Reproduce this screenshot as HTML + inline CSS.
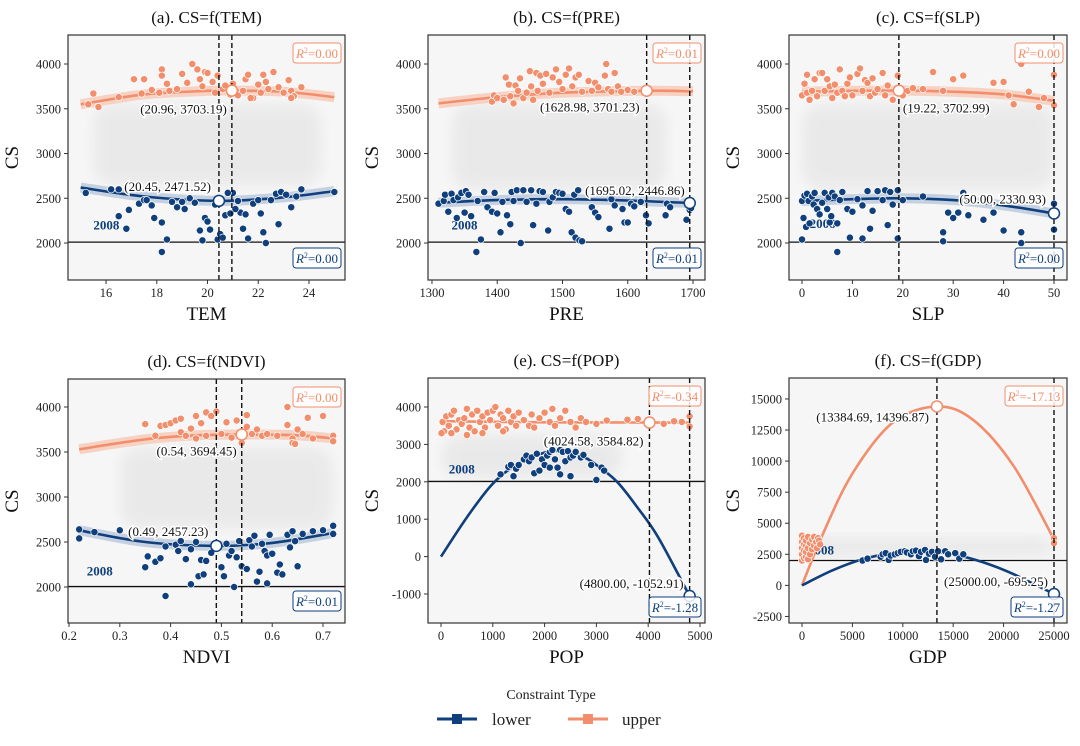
<!DOCTYPE html>
<html><head><meta charset="utf-8"><style>
html,body{margin:0;padding:0;background:#fff}
svg{display:block;font-family:"Liberation Serif",serif}
</style></head><body>
<svg id="fig" width="1080" height="746" viewBox="0 0 1080 746">
<defs><filter id="blur" x="-20%" y="-20%" width="140%" height="140%"><feGaussianBlur stdDeviation="6"/></filter></defs>
</svg>
<script>
// ---------- data ----------
const panelTitles=["(a). CS=f(TEM)","(b). CS=f(PRE)","(c). CS=f(SLP)","(d). CS=f(NDVI)","(e). CS=f(POP)","(f). CS=f(GDP)"];
const xLabels=["TEM","PRE","SLP","NDVI","POP","GDP"];
const xTicks=[[16,18,20,22,24],[1300,1400,1500,1600,1700],[0,10,20,30,40,50],[0.2,0.3,0.4,0.5,0.6,0.7],[0,1000,2000,3000,4000,5000],[0,5000,10000,15000,20000,25000]];
const xTickLabels=[["16","18","20","22","24"],["1300","1400","1500","1600","1700"],["0","10","20","30","40","50"],["0.2","0.3","0.4","0.5","0.6","0.7"],["0","1000","2000","3000","4000","5000"],["0","5000","10000","15000","20000","25000"]];
const yTicks=[[2000,2500,3000,3500,4000],[2000,2500,3000,3500,4000],[2000,2500,3000,3500,4000],[2000,2500,3000,3500,4000],[-1000,0,1000,2000,3000,4000],[-2500,0,2500,5000,7500,10000,12500,15000]];
const xDomains=[[14.50,25.42],[1293.9,1718.4],[-2.58,52.58],[0.198,0.7433],[-251,5097],[-1290,26290]];
const yDomains=[[1587,4324],[1587,4324],[1587,4324],[1600,4311],[-1775,4775],[-3027,16686]];
const r2Upper=["0.00","0.01","0.00","0.00","-0.34","-17.13"];
const r2Lower=["0.00","0.01","0.00","0.01","-1.28","-1.27"];
const refLine=[2010,2010,2010,2005,2010,2000];
const vLines=[[20.45,20.96],[1628.98,1695.02],[19.22,50],[0.49,0.54],[4024.58,4800],[13384.69,25000]];
const upperOpt=[[20.96,3703.19],[1628.98,3701.23],[19.22,3702.99],[0.54,3694.45],[4024.58,3584.82],[13384.69,14396.87]];
const lowerOpt=[[20.45,2471.52],[1695.02,2446.86],[50,2330.93],[0.49,2457.23],[4800,-1052.91],[25000,-695.25]];
const upperOptText=["(20.96, 3703.19)","(1628.98, 3701.23)","(19.22, 3702.99)","(0.54, 3694.45)","(4024.58, 3584.82)","(13384.69, 14396.87)"];
const lowerOptText=["(20.45, 2471.52)","(1695.02, 2446.86)","(50.00, 2330.93)","(0.49, 2457.23)","(4800.00, -1052.91)","(25000.00, -695.25)"];
const label2008=[[15.5,2150],[1330,2150],[1.5,2170],[0.235,2130],[150,2220],[600,2480]];
const cloud=[[15.5,24.5,2650,3550],[1330,1660,2600,3550],[0,50,2600,3550],[0.3,0.72,2650,3550],[0,3500,2100,3250],[0,25000,2300,3900]];
const upperCurve=[
[[15,3550],[17.5,3660],[20,3700],[21,3703],[23,3690],[25,3630]],
[[1310,3560],[1400,3630],[1500,3680],[1629,3701],[1700,3695]],
[[0,3690],[10,3700],[19.22,3703],[30,3690],[40,3660],[50,3590]],
[[0.22,3530],[0.35,3640],[0.45,3685],[0.54,3694],[0.65,3685],[0.72,3650]],
[[0,3620],[2000,3590],[4024,3585],[4800,3580]],
[[0,0],[2000,4000],[5000,9000],[9000,13100],[13385,14397],[17000,13300],[21000,9600],[25000,3700]]];
const lowerCurve=[
[[15,2620],[17.5,2520],[20.45,2471],[23,2510],[25,2580]],
[[1310,2450],[1400,2480],[1500,2490],[1600,2475],[1695,2447]],
[[0,2470],[10,2490],[20,2500],[30,2480],[40,2420],[50,2331]],
[[0.22,2630],[0.35,2500],[0.49,2457],[0.6,2490],[0.72,2600]],
[[0,0],[500,1050],[1000,1950],[1500,2500],[2000,2780],[2300,2820],[2700,2700],[3000,2450],[3400,2000],[3800,1300],[4200,500],[4800,-1053]],
[[0,0],[3000,1200],[6000,2100],[9000,2600],[12000,2750],[15000,2500],[18000,1850],[21000,900],[25000,-695]]];
const upperPts=[
[[15.3,3550],[15.5,3670],[15.7,3520],[16.5,3630],[17.1,3830],[17.5,3830],[17.4,3670],[17.8,3710],[18.1,3680],[18.2,3940],[18.2,3870],[18.4,3780],[18.5,3700],[18.8,3720],[19,3890],[19.2,3790],[19.4,4000],[19.6,3940],[19.7,3830],[19.8,3750],[19.9,3910],[20,3900],[20.2,3800],[20.3,3680],[20.4,3870],[20.6,3720],[20.7,3760],[20.9,3660],[21,3780],[21.2,3650],[21.4,3700],[21.5,3830],[21.6,3880],[21.8,3620],[22,3770],[22.1,3680],[22.2,3880],[22.3,3800],[22.4,3720],[22.6,3910],[22.8,3740],[23,3680],[23.2,3820],[23.3,3700],[23.4,3640],[23.7,3740],[23.3,3620],[21.7,3620]],
[[1392,3580],[1395,3650],[1400,3620],[1410,3600],[1413,3850],[1418,3770],[1420,3640],[1425,3560],[1428,3760],[1432,3700],[1435,3840],[1440,3620],[1445,3680],[1450,3920],[1452,3750],[1455,3600],[1460,3900],[1462,3700],[1466,3870],[1470,3780],[1475,3890],[1480,3680],[1485,3850],[1490,3940],[1495,3800],[1500,3720],[1505,3880],[1510,3950],[1515,3750],[1520,3850],[1525,3880],[1530,3690],[1540,3810],[1545,3700],[1550,3790],[1555,3740],[1565,3870],[1570,3720],[1575,3690],[1580,3900],[1585,3750],[1590,3690],[1600,3710],[1610,3690],[1567,4000]],
[[0,3650],[0.5,3780],[1,3880],[1,3680],[1.5,3600],[2,3700],[2.5,3830],[3,3640],[3.5,3900],[4,3900],[4.5,3700],[5,3830],[5.5,3750],[6,3620],[6.5,3770],[7,3680],[7.5,3940],[8,3700],[8.5,3640],[9,3780],[9.5,3850],[10,3650],[11,3890],[11.5,3950],[12,3700],[12.5,3820],[13,3790],[13.5,3640],[14,3840],[14.5,3680],[15,3720],[16,3900],[16.5,3650],[17,3760],[18,3600],[19,3870],[20,3650],[21,3700],[22,3730],[24,3720],[26,3910],[28,3700],[30,3830],[32,3870],[38,3790],[40,3800],[41,3650],[42,3550],[45,3690],[47,3520],[48,3620],[50,3880],[50,3540],[43.5,4000]],
[[0.35,3810],[0.37,3680],[0.38,3790],[0.39,3800],[0.4,3820],[0.41,3850],[0.42,3870],[0.42,3720],[0.43,3680],[0.44,3760],[0.45,3900],[0.45,3650],[0.46,3820],[0.47,3940],[0.47,3680],[0.48,3900],[0.49,3950],[0.5,3700],[0.51,3830],[0.52,3660],[0.53,3850],[0.54,3600],[0.55,3910],[0.55,3780],[0.56,3700],[0.57,3750],[0.58,3680],[0.59,3700],[0.61,3680],[0.63,3800],[0.63,4000],[0.64,3650],[0.64,3600],[0.65,3750],[0.66,3700],[0.67,3880],[0.68,3650],[0.7,3900],[0.72,3680],[0.72,3620],[0.645,3590]],
[[30,3600],[60,3350],[100,3750],[150,3500],[200,3800],[250,3900],[300,3400],[350,3650],[400,3550],[450,3700],[500,3950],[550,3450],[600,3800],[650,3350],[700,3900],[750,3600],[800,3750],[850,3450],[900,3850],[950,3650],[1000,3900],[1050,4000],[1100,3500],[1150,3800],[1200,3700],[1250,3400],[1300,3900],[1350,3600],[1400,3750],[1450,3500],[1500,3850],[1600,3650],[1700,3500],[1750,3800],[1800,3450],[1900,3700],[2000,3850],[2100,3600],[2150,3950],[2200,3500],[2300,3700],[2400,3900],[2500,3600],[2600,3450],[2700,3700],[2800,3600],[3000,3550],[3200,3640],[3600,3660],[3800,3680],[4300,3550],[4500,3620],[4650,3600],[4800,3750],[4800,3480],[10,3300],[200,3300],[500,3250],[800,3300],[1200,3350]],
[[0,2000],[0,2500],[0,3000],[0,3500],[0,4000],[200,2200],[200,2800],[200,3300],[200,3800],[400,2300],[400,2700],[400,3200],[400,3600],[600,2100],[600,3000],[600,3900],[800,2500],[800,3400],[1000,2900],[1000,3700],[1200,3200],[1200,3900],[1400,3500],[1500,3000],[1600,3800],[1700,3600],[1800,3300],[25000,3800],[25000,3400]]];
const lowerPts=[
[[15.2,2560],[16.2,2600],[16.5,2600],[16.5,2300],[16.8,2160],[16.9,2370],[17.3,2440],[17.5,2480],[17.6,2480],[17.8,2420],[17.9,2280],[18.2,2230],[18.2,1900],[18.4,2040],[18.6,2460],[18.8,2400],[19,2460],[19.1,2380],[19.3,2500],[19.5,2450],[19.7,2140],[19.8,2030],[19.9,2280],[20,2240],[20.1,2150],[20.3,2430],[20.4,2040],[20.5,2100],[20.6,2060],[20.7,2310],[20.9,2330],[21,2560],[21.2,2470],[21.3,2340],[21.4,2160],[21.5,2320],[21.6,2050],[21.8,2440],[22,2480],[22.1,2330],[22.2,2120],[22.3,2000],[22.5,2480],[22.7,2550],[22.8,2210],[22.9,2570],[23.1,2540],[23.3,2400],[23.5,2520],[23.7,2600],[25,2570],[21.1,2380],[20.8,2560]],
[[1310,2440],[1318,2470],[1320,2540],[1325,2350],[1330,2550],[1333,2480],[1338,2280],[1340,2510],[1345,2560],[1350,2340],[1352,2580],[1356,2540],[1360,2300],[1368,1900],[1370,2470],[1375,2040],[1380,2570],[1385,2400],[1392,2350],[1396,2560],[1400,2330],[1405,2120],[1408,2460],[1415,2310],[1420,2210],[1422,2570],[1425,2470],[1430,2590],[1436,2000],[1440,2590],[1445,2460],[1452,2590],[1455,2200],[1460,2440],[1465,2580],[1470,2570],[1478,2140],[1480,2460],[1485,2510],[1490,2570],[1495,2560],[1500,2550],[1505,2380],[1510,2350],[1514,2120],[1518,2540],[1520,2060],[1524,2590],[1526,2030],[1530,2020],[1545,2400],[1550,2340],[1555,2290],[1572,2160],[1575,2490],[1580,2420],[1592,2380],[1595,2230],[1600,2230],[1605,2440],[1610,2410],[1620,2460],[1628,2310],[1632,2220],[1658,2310],[1660,2440],[1665,2400],[1690,2260],[1695,2370],[1697,2390]],
[[0,2470],[0,2040],[0.3,2280],[0.5,2530],[0.8,2180],[1,2550],[1.3,2470],[1.5,2220],[2,2520],[2.3,2430],[2.5,2560],[3,2380],[3.5,2320],[4,2450],[4.5,2560],[5,2380],[5.3,2510],[5.5,2230],[5.8,2300],[6,2560],[6.5,2520],[7,2220],[7,1900],[7.5,2480],[8,2570],[9,2380],[9.5,2060],[10,2350],[11,2490],[12,2050],[12,2420],[13,2580],[13.5,2160],[14,2360],[15,2580],[16,2480],[16.5,2590],[17,2200],[17.5,2570],[18,2430],[19,2590],[19,2050],[20,2480],[24,2520],[28,2120],[28,2020],[29,2340],[30,2280],[31,2340],[32,2560],[33,2310],[36,2260],[38,2340],[40,2140],[43.5,2120],[43.5,2000],[50,2150],[50,2440]],
[[0.22,2640],[0.22,2540],[0.25,2610],[0.3,2630],[0.35,2220],[0.355,2340],[0.37,2280],[0.38,2320],[0.39,2450],[0.39,1900],[0.41,2470],[0.415,2400],[0.42,2510],[0.43,2310],[0.44,2420],[0.44,2030],[0.45,2500],[0.455,2120],[0.46,2300],[0.465,2140],[0.47,2290],[0.48,2380],[0.49,2440],[0.5,2220],[0.505,2120],[0.51,2480],[0.515,2350],[0.52,2400],[0.525,2000],[0.53,2330],[0.535,2510],[0.54,2230],[0.55,2200],[0.555,2520],[0.56,2450],[0.565,2570],[0.57,2060],[0.575,2170],[0.58,2480],[0.585,2400],[0.59,2040],[0.59,2350],[0.595,2580],[0.6,2370],[0.61,2160],[0.615,2250],[0.62,2140],[0.63,2580],[0.635,2440],[0.64,2620],[0.645,2510],[0.65,2230],[0.66,2590],[0.68,2620],[0.7,2630],[0.72,2680],[0.72,2590]],
[[1150,2200],[1300,2400],[1350,2450],[1400,2150],[1450,2350],[1500,2450],[1600,2600],[1650,2700],[1700,2550],[1750,2650],[1800,2230],[1850,2750],[1900,2300],[1950,2600],[2000,2450],[2050,2700],[2100,2800],[2150,2850],[2200,2600],[2250,2380],[2300,2850],[2350,2800],[2400,2550],[2450,2820],[2500,2650],[2550,2700],[2600,2800],[2700,2650],[2750,2720],[2900,2450],[3000,2050],[3100,2380],[3150,2300],[2500,2150],[2100,2380],[2300,2200]],
[[6000,2000],[6500,2150],[7800,2300],[8000,2500],[8300,2600],[8600,2050],[8800,2400],[9200,2500],[9500,2600],[9800,2700],[10200,2750],[10400,2650],[10800,2500],[11000,2750],[11300,2800],[11600,2350],[11800,2700],[12200,2850],[12300,2050],[12600,2550],[12900,2700],[13200,2300],[13500,2750],[13800,2100],[14200,2750],[14500,2500],[15200,2600],[15600,2150],[16000,2500]]];

// ---------- layout (pixels / style) ----------
const boxes=[[68,35,345,280],[428,35,705,280],[789,35,1067,280],[68,379,345,623],[428,378,705,623],[789,378,1067,623]];
const upLabPos=[["end",-5,23],["end",-7,21],["start",4,22],["end",-5,21],["end",-6,23],["end",-8,15]];
const loLabPos=[["end",-8,-10],["end",-5,-8],["end",-8,-10],["end",-8,-10],["end",-6,-8],["end",-6,-8]];
const lowBoxOff=[12,12,12,12,6,6];
const UP="#f28e6b", LO="#0f3f7c";
const NS="http://www.w3.org/2000/svg";
const svg=document.getElementById('fig');
function mk(tag,attrs,parent){const e=document.createElementNS(NS,tag);for(const k in attrs)e.setAttribute(k,attrs[k]);(parent||svg).appendChild(e);return e;}
function smooth(p){let d="M"+p[0][0]+","+p[0][1];for(let i=0;i<p.length-1;i++){const p0=p[i-1]||p[i],p1=p[i],p2=p[i+1],p3=p[i+2]||p2;
const c1=[p1[0]+(p2[0]-p0[0])/6,p1[1]+(p2[1]-p0[1])/6],c2=[p2[0]-(p3[0]-p1[0])/6,p2[1]-(p3[1]-p1[1])/6];
d+=" C"+c1+" "+c2+" "+p2;}return d;}

for(let k=0;k<6;k++){
  const [L,T,R,B]=boxes[k];
  const g=mk('g',{});
  
  
  const xs=v=>L+(v-xDomains[k][0])/(xDomains[k][1]-xDomains[k][0])*(R-L);
  const ys=v=>B-(v-yDomains[k][0])/(yDomains[k][1]-yDomains[k][0])*(B-T);
  const cp=mk('clipPath',{id:'cp'+k},g);mk('rect',{x:L,y:T,width:R-L,height:B-T},cp);
  const bg=mk('rect',{x:L,y:T,width:R-L,height:B-T,fill:'#f6f6f6'},g);
  
  const pg=mk('g',{'clip-path':'url(#cp'+k+')'},g);
  const c=cloud[k];
  const cl=mk('rect',{x:xs(c[0]),y:ys(c[3]),width:xs(c[1])-xs(c[0]),height:ys(c[2])-ys(c[3]),rx:20,fill:'#e2e2e2',opacity:0.6,filter:'url(#blur)'},pg);
  
  const hl=mk('line',{x1:L,x2:R,y1:ys(refLine[k]),y2:ys(refLine[k]),stroke:'#111','stroke-width':1.3},pg);
  
  const t8=mk('text',{x:xs(label2008[k][0]),y:ys(label2008[k][1]),fill:LO,'font-size':13,'font-weight':'bold'},pg);t8.textContent='2008';
  
  [[upperCurve[k],UP,'#f7c9b6','upper'],[lowerCurve[k],LO,'#b9c8dc','lower']].forEach(([cv,col,band,nm])=>{
    const d=smooth(cv.map(p=>[xs(p[0]),ys(p[1])]));
    if(k<4){const b=mk('path',{d:d,fill:'none',stroke:band,'stroke-width':10,opacity:0.8},pg);
      }
    const l=mk('path',{d:d,fill:'none',stroke:col,'stroke-width':2.6},pg);
    
  });
  upperPts[k].forEach(p=>{const c=mk('circle',{cx:xs(p[0]),cy:ys(p[1]),r:3.6,fill:UP,stroke:'#fff','stroke-width':0.7},pg);
    });
  lowerPts[k].forEach(p=>{const c=mk('circle',{cx:xs(p[0]),cy:ys(p[1]),r:3.6,fill:LO,stroke:'#fff','stroke-width':0.7},pg);
    });
  vLines[k].forEach(v=>{const l=mk('line',{x1:xs(v),x2:xs(v),y1:T,y2:B,stroke:'#111','stroke-width':1.4,'stroke-dasharray':'5,3'},pg);
    });
  [[upperOpt[k],UP,upperOptText[k],upLabPos[k],'upper'],[lowerOpt[k],LO,lowerOptText[k],loLabPos[k],'lower']].forEach(([p,col,txt,pos,nm])=>{
    const cx=xs(p[0]),cy=ys(p[1]);
    const t=mk('text',{x:cx+pos[1],y:cy+pos[2],'text-anchor':pos[0],'font-size':13,fill:'#111',stroke:'#fff','stroke-width':3,'paint-order':'stroke'},g);t.textContent=txt;
    
    const m=mk('circle',{cx:cx,cy:cy,r:5.5,fill:'#fff',stroke:col,'stroke-width':1.5},g);
    
  });
  [[r2Upper[k],UP,T+8,'upper'],[r2Lower[k],LO,B-lowBoxOff[k]-20,'lower']].forEach(([v,col,y,nm])=>{
    const w=k<4?48:(v.length>5?58:52);
    const gb=mk('g',{},g);
    mk('rect',{x:R-4-w,y:y,width:w,height:20,rx:3,fill:'#fff','fill-opacity':0.85,stroke:col,'stroke-width':1},gb);
    const t=mk('text',{x:R-4-w/2,y:y+15,'text-anchor':'middle','font-size':13,fill:col},gb);
    t.innerHTML='<tspan font-style="italic">R</tspan><tspan dy="-5" font-size="8">2</tspan><tspan dy="5">='+v+'</tspan>';
  });
  mk('rect',{x:L,y:T,width:R-L,height:B-T,fill:'none',stroke:'#333','stroke-width':1.2},g);
  xTicks[k].forEach((v,i)=>{const x=xs(v);mk('line',{x1:x,x2:x,y1:B,y2:B+4,stroke:'#333'},g);
    const t=mk('text',{x:x,y:B+17,'text-anchor':'middle','font-size':12.5,fill:'#222'},g);t.textContent=xTickLabels[k][i];
    });
  yTicks[k].forEach(v=>{const y=ys(v);mk('line',{x1:L-4,x2:L,y1:y,y2:y,stroke:'#333'},g);
    const t=mk('text',{x:L-7,y:y+4.5,'text-anchor':'end','font-size':12.5,fill:'#222'},g);t.textContent=v;
    });
  const ti=mk('text',{x:(L+R)/2,y:T-12,'text-anchor':'middle','font-size':17,fill:'#111'},g);ti.textContent=panelTitles[k];
  
  const xl=mk('text',{x:(L+R)/2,y:B+40,'text-anchor':'middle','font-size':19,fill:'#111'},g);xl.textContent=xLabels[k];
  
  const yx=L-50;
  const yl=mk('text',{x:yx,y:(T+B)/2,'text-anchor':'middle','font-size':19,fill:'#111',transform:'rotate(-90 '+yx+' '+(T+B)/2+')'},g);yl.textContent='CS';
  
}
const lg=mk('g',{});


const lt=mk('text',{x:551,y:699,'text-anchor':'middle','font-size':14,fill:'#222'},lg);lt.textContent='Constraint Type';
[[437,LO,'lower',492],[568,UP,'upper',622]].forEach(([x,col,txt,tx])=>{
  const e=mk('g',{},lg);
  
  
  mk('line',{x1:x,x2:x+40,y1:719,y2:719,stroke:col,'stroke-width':3},e);
  mk('rect',{x:x+15,y:714,width:10,height:10,fill:col},e);
  const t=mk('text',{x:tx,y:725,'font-size':17,fill:'#222'},e);t.textContent=txt;
});
</script>
</body></html>
